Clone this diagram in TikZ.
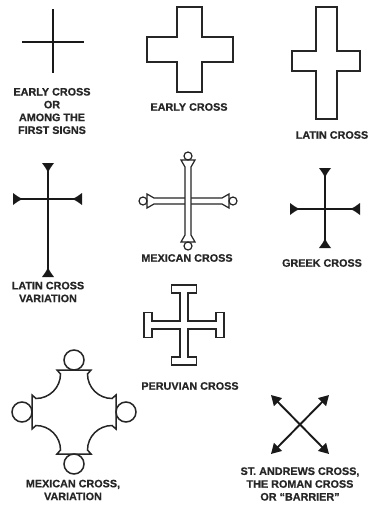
\documentclass[tikz,border=0pt]{standalone}
\usepackage{fontspec}
\setmainfont{Liberation Sans}[BoldFeatures={FakeBold=0.6}]
\usetikzlibrary{arrows.meta}
\begin{document}
\begin{tikzpicture}[x=1pt,y=-1pt,line join=miter,
  lbl/.style={font=\bfseries\fontsize{10.8}{12.8}\selectfont,align=center,text=black!85,inner sep=0pt},
  bar/.style={line width=1.9pt,draw=black!90},
  ol/.style={line width=1.5pt,draw=black!85,fill=white},
  thin ol/.style={line width=1.2pt,draw=black!85,fill=white},
  tri/.pic={\fill[black!90] (0,-6) .. controls (3,-3.5) and (6,-1.5) .. (10,0)
            .. controls (6,1.5) and (3,3.5) .. (0,6) -- cycle;},
  sa/.style={line width=1.9pt,draw=black!90,{Triangle[width=11pt,length=10pt]}-{Triangle[width=11pt,length=10pt]}}]
\useasboundingbox (0,0) rectangle (370,506);
\fill[white] (0,0) rectangle (370,506);

% 1 early cross (lines)
\coordinate (e1t) at (53,9); \coordinate (e1b) at (53,73);
\coordinate (e1l) at (22,42); \coordinate (e1r) at (84,42);
\draw[bar] (e1t) -- (e1b);
\draw[bar] (e1l) -- (e1r);
\node[lbl] (l1) at (52,111) {EARLY CROSS\\OR\\AMONG THE\\FIRST SIGNS};

% 2 early cross (outline)
\draw[ol] (177,7) -- (202,7) -- (202,37) -- (233,37) -- (233,62) -- (202,62) -- (202,92)
  -- (177,92) -- (177,62) -- (147,62) -- (147,37) -- (177,37) -- cycle;
\node[lbl] (l2) at (189,107) {EARLY CROSS};

% 3 latin cross
\draw[ol] (316,7) -- (337,7) -- (337,51) -- (360,51) -- (360,71) -- (337,71) -- (337,119)
  -- (316,119) -- (316,71) -- (292,71) -- (292,51) -- (316,51) -- cycle;
\node[lbl] (l3) at (332,135) {LATIN CROSS};

% 4 latin cross variation
\coordinate (v4t) at (48,163); \coordinate (v4b) at (48,277);
\coordinate (v4l) at (13,199); \coordinate (v4r) at (82,199);
\draw[bar] (v4t) -- (v4b);
\draw[bar] (v4l) -- (v4r);
\pic[rotate=-90] at (v4t) {tri};
\pic[rotate=90] at (v4b) {tri};
\pic at (v4l) {tri};
\pic[rotate=180] at (v4r) {tri};
\node[lbl] (l4) at (48,292) {LATIN CROSS\\VARIATION};

% 5 greek cross
\coordinate (g5t) at (325,168); \coordinate (g5b) at (325,248);
\coordinate (g5l) at (290,209); \coordinate (g5r) at (360,209);
\draw[bar] (g5t) -- (g5b);
\draw[bar] (g5l) -- (g5r);
\pic[rotate=-90] at (g5t) {tri};
\pic[rotate=90] at (g5b) {tri};
\pic at (g5l) {tri};
\pic[rotate=180] at (g5r) {tri};
\node[lbl] (l5) at (322,263) {GREEK CROSS};

% 6 mexican cross
\begin{scope}[shift={(188,201)}]
  \draw[thin ol] (-34,-3) -- (-41,-7) -- (-41,7) -- (-34,3) -- (34,3) -- (41,7) -- (41,-7) -- (34,-3) -- cycle;
  \draw[thin ol] (-3,-34) -- (-7,-41) -- (7,-41) -- (3,-34) -- (3,34) -- (7,41) -- (-7,41) -- (-3,34) -- cycle;
  \draw[thin ol] (0,-45) circle[radius=4];
  \draw[thin ol] (0,45) circle[radius=4];
  \draw[thin ol] (-45,0) circle[radius=4];
  \draw[thin ol] (45,0) circle[radius=4];
\end{scope}
\node[lbl] (l6) at (187,258) {MEXICAN CROSS};

% 7 peruvian cross
\begin{scope}[shift={(184,325)}]
  \draw[ol] (-4,-32) -- (-12.5,-32) -- (-12.5,-40) -- (12.5,-40) -- (12.5,-32) -- (4,-32)
    -- (4,-4) -- (32,-4) -- (32,-12.5) -- (40,-12.5) -- (40,12.5) -- (32,12.5) -- (32,4)
    -- (4,4) -- (4,32) -- (12.5,32) -- (12.5,40) -- (-12.5,40) -- (-12.5,32) -- (-4,32)
    -- (-4,4) -- (-32,4) -- (-32,12.5) -- (-40,12.5) -- (-40,-12.5) -- (-32,-12.5) -- (-32,-4)
    -- (-4,-4) -- cycle;
\end{scope}
\node[lbl] (l7) at (190,386) {PERUVIAN CROSS};

% 8 mexican cross variation
\begin{scope}[shift={(74,412)}]
  \draw[ol] (-17,-42) -- (17,-42) -- (13.5,-38)
    .. controls (13.5,-24.5) and (24.5,-13.5) .. (38,-13.5) -- (42,-17) -- (42,17) -- (38,13.5)
    .. controls (24.5,13.5) and (13.5,24.5) .. (13.5,38) -- (17,42) -- (-17,42) -- (-13.5,38)
    .. controls (-13.5,24.5) and (-24.5,13.5) .. (-38,13.5) -- (-42,17) -- (-42,-17) -- (-38,-13.5)
    .. controls (-24.5,-13.5) and (-13.5,-24.5) .. (-13.5,-38) -- cycle;
  \draw[ol] (0,-52) circle[radius=10];
  \draw[ol] (0,52) circle[radius=10];
  \draw[ol] (-52,0) circle[radius=10];
  \draw[ol] (52,0) circle[radius=10];
\end{scope}
\node[lbl] (l8) at (73,490) {MEXICAN CROSS,\\VARIATION};

% 9 st andrews cross
\coordinate (s9a) at (271,395); \coordinate (s9b) at (329,454);
\coordinate (s9c) at (329,395); \coordinate (s9d) at (271,454);
\draw[sa] (s9a) -- (s9b);
\draw[sa] (s9c) -- (s9d);
\node[lbl] (l9) at (300,484) {ST. ANDREWS CROSS,\\THE ROMAN CROSS\\OR ``BARRIER''};
\end{tikzpicture}
\end{document}
